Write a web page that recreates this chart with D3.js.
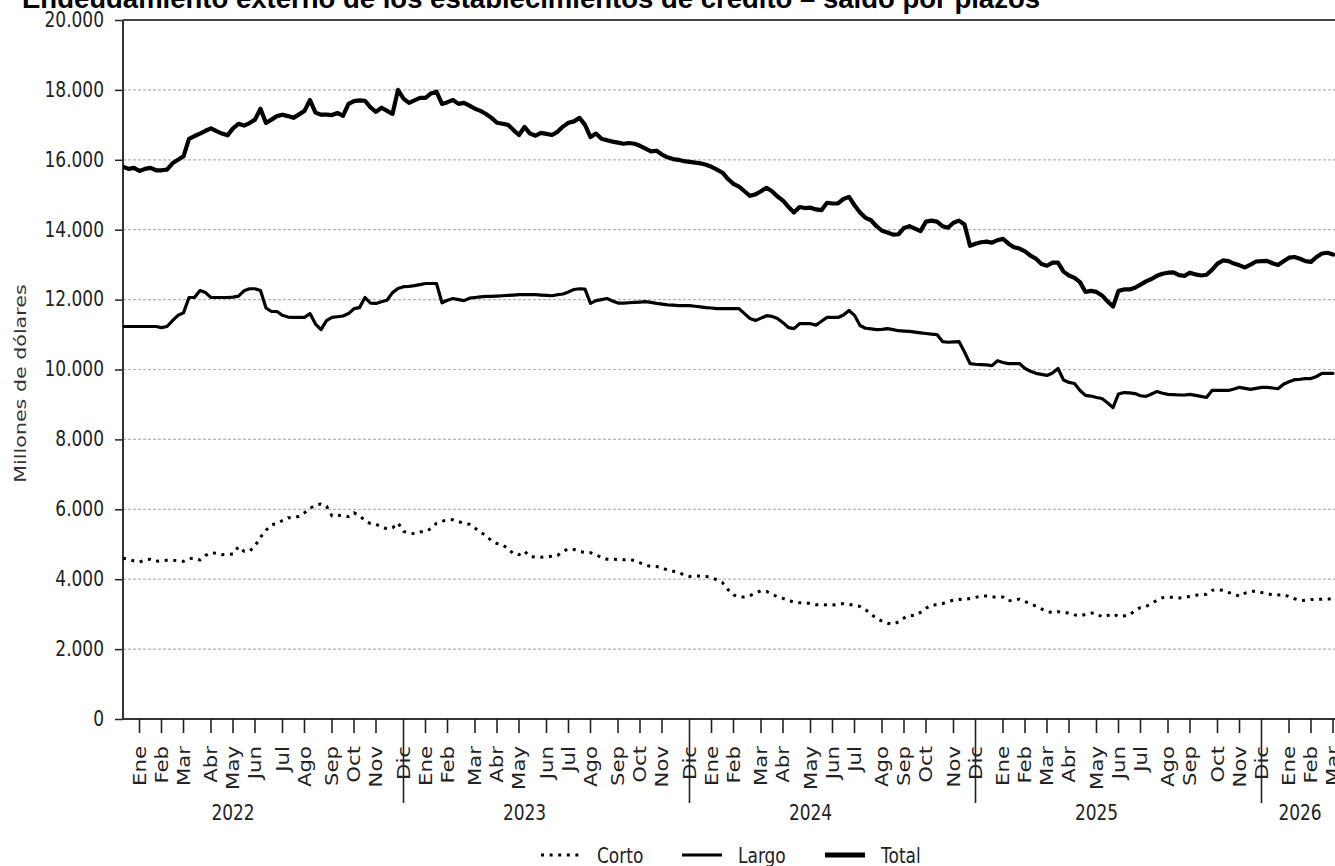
<!DOCTYPE html>
<html><head><meta charset="utf-8">
<script src="https://cdn.jsdelivr.net/npm/d3@7"></script>
<style>body{margin:0;background:#fff}svg{display:block}</style>
</head><body>
<svg id="chart" width="1335" height="866"></svg>
<script>
const titleText = "Endeudamiento externo de los establecimientos de crédito – saldo por plazos";
const yAxisLabel = "Millones de dólares";
const startDate = "2022-01-07";
const monthNames = ["Ene","Feb","Mar","Abr","May","Jun","Jul","Ago","Sep","Oct","Nov","Dic"];
const yearLabels = ["2022","2023","2024","2025","2026"];
const yearLabelDates = ["2022-05-27","2023-06-02","2024-05-31","2025-05-30","2026-02-13"];
const yTicks = [0,2000,4000,6000,8000,10000,12000,14000,16000,18000,20000];
const seriesNames = ["Corto","Largo","Total"];

const corto = [4600,4570,4520,4490,4550,4570,4510,4530,4540,4540,
4530,4510,4590,4600,4550,4680,4760,4740,4700,4710,
4720,4930,4800,4800,4950,5200,5400,5560,5590,5680,
5760,5750,5800,5900,6030,6120,6150,6090,5810,5830,
5820,5790,5900,5820,5680,5590,5570,5500,5440,5470,
5610,5370,5320,5300,5350,5360,5450,5600,5660,5695,
5700,5650,5600,5570,5460,5340,5250,5100,5020,4980,
4880,4720,4700,4800,4650,4630,4630,4645,4660,4680,
4800,4865,4850,4790,4770,4760,4700,4620,4570,4570,
4565,4555,4560,4540,4470,4400,4365,4362,4330,4260,
4230,4200,4120,4080,4095,4090,4080,4040,3980,3900,
3700,3550,3490,3490,3530,3600,3670,3650,3570,3500,
3450,3400,3340,3327,3327,3300,3270,3270,3260,3255,
3290,3300,3280,3250,3220,3130,3000,2880,2800,2740,
2710,2780,2890,2960,2960,3050,3170,3260,3270,3300,
3360,3400,3423,3420,3450,3480,3520,3520,3490,3490,
3490,3380,3400,3430,3360,3300,3230,3150,3080,3040,
3070,3050,3030,2980,2950,2990,3030,3020,2920,2960,
3010,2930,2950,2980,3100,3190,3220,3300,3400,3470,
3480,3480,3465,3480,3510,3540,3550,3567,3680,3700,
3683,3620,3580,3510,3600,3650,3660,3620,3590,3550,
3550,3565,3500,3440,3390,3400,3420,3423,3423,3430,
3430];

const largo = [11230,11230,11230,11230,11230,11230,11230,11200,11230,11400,
11550,11620,12060,12060,12260,12200,12060,12060,12060,12060,
12070,12100,12250,12310,12310,12260,11760,11660,11660,11550,
11500,11490,11490,11490,11600,11300,11140,11400,11490,11510,
11530,11600,11740,11770,12060,11900,11890,11940,11980,12200,
12320,12370,12380,12400,12430,12460,12460,12460,11910,11980,
12030,12000,11970,12040,12060,12080,12090,12090,12100,12110,
12120,12130,12140,12140,12140,12140,12130,12120,12110,12140,
12160,12220,12290,12310,12300,11890,11970,12000,12030,11960,
11900,11900,11910,11920,11930,11940,11920,11890,11870,11850,
11840,11830,11830,11830,11810,11790,11770,11760,11740,11740,
11740,11740,11740,11600,11460,11400,11470,11540,11520,11460,
11340,11200,11170,11310,11310,11310,11270,11380,11490,11490,
11490,11560,11690,11550,11260,11180,11160,11140,11150,11170,
11140,11110,11100,11090,11070,11050,11030,11010,11000,10800,
10780,10790,10800,10500,10170,10150,10140,10130,10110,10250,
10200,10170,10170,10170,10030,9950,9890,9860,9830,9900,
10030,9700,9630,9600,9400,9260,9240,9200,9170,9050,
8910,9300,9340,9330,9310,9250,9230,9300,9370,9320,
9290,9280,9270,9270,9290,9260,9230,9200,9400,9400,
9400,9400,9440,9490,9460,9430,9460,9490,9490,9470,
9450,9580,9650,9710,9720,9740,9740,9800,9890,9890,
9890];

const total = [15800,15740,15770,15680,15740,15770,15700,15700,15720,15900,
16000,16100,16600,16680,16750,16830,16900,16820,16750,16700,
16900,17030,16980,17050,17150,17460,17050,17150,17250,17290,
17250,17200,17300,17400,17710,17350,17290,17290,17280,17340,
17260,17600,17680,17700,17690,17500,17370,17490,17400,17310,
18000,17750,17630,17700,17770,17770,17900,17950,17600,17650,
17710,17600,17630,17550,17460,17400,17310,17200,17060,17030,
17000,16850,16710,16940,16750,16690,16770,16740,16710,16800,
16950,17060,17100,17200,17000,16650,16750,16600,16560,16520,
16490,16460,16480,16460,16400,16320,16240,16260,16150,16070,
16020,16000,15960,15940,15920,15900,15860,15800,15720,15630,
15450,15310,15230,15100,14970,15010,15100,15200,15100,14950,
14830,14650,14490,14650,14620,14630,14580,14560,14770,14750,
14750,14880,14940,14700,14490,14340,14270,14100,13970,13920,
13860,13870,14050,14100,14030,13960,14230,14260,14230,14100,
14060,14200,14260,14150,13540,13600,13640,13660,13630,13700,
13740,13600,13500,13460,13380,13260,13170,13020,12970,13060,
13060,12800,12690,12620,12500,12220,12250,12220,12120,11950,
11800,12250,12290,12290,12340,12430,12520,12590,12680,12740,
12770,12780,12700,12680,12770,12720,12690,12710,12850,13030,
13120,13100,13030,12980,12920,13000,13090,13100,13110,13040,
12990,13100,13200,13220,13170,13100,13080,13220,13320,13340,
13290];

const W = 1335, H = 866;
const pL = 123, pR = 1333, pT = 20, pB = 719;
const S = 1.25; // vertical stretch of text in reference
const FONT = "DejaVu Sans, sans-serif";

const parse = d3.utcParse("%Y-%m-%d");
const t0 = parse(startDate);
const dates = total.map((_, i) => d3.utcDay.offset(t0, 7 * i));

const x = d3.scaleUtc().domain([dates[0], dates[dates.length - 1]]).range([pL, pR]);
const y = d3.scaleLinear().domain([0, 20000]).range([pB, pT]);

const loc = d3.formatLocale({decimal: ",", thousands: ".", grouping: [3], currency: ["", ""]});
const fmt = loc.format(",");

const svg = d3.select("#chart");
svg.append("rect").attr("width", W).attr("height", H).attr("fill", "#fff");

// title (clipped at top in reference)
svg.append("text")
  .attr("transform", `translate(22,8) scale(1,${S})`)
  .attr("font-family", "Liberation Sans, Arial, sans-serif")
  .attr("font-weight", "bold")
  .attr("font-size", 22)
  .attr("textLength", 1018)
  .attr("lengthAdjust", "spacingAndGlyphs")
  .attr("fill", "#000")
  .text(titleText);

// grid
svg.append("g").selectAll("line")
  .data(yTicks.filter(v => v > 0 && v < 20000))
  .join("line")
  .attr("x1", pL).attr("x2", W)
  .attr("y1", d => y(d)).attr("y2", d => y(d))
  .attr("stroke", "#b5b5b5").attr("stroke-width", 1.2)
  .attr("stroke-dasharray", "3,2");

// y axis
const yAxis = svg.append("g").attr("transform", `translate(${pL},0)`)
  .call(d3.axisLeft(y).tickValues(yTicks).tickFormat(fmt).tickSize(8).tickPadding(11));
yAxis.select(".domain").remove();
yAxis.selectAll(".tick line").attr("stroke", "#222").attr("stroke-width", 1.5);
yAxis.selectAll(".tick text")
  .attr("font-family", FONT).attr("font-size", 17).attr("fill", "#222")
  .attr("transform", `scale(1,${S})`)
  .attr("dy", "0.3em");

// spines
svg.append("line").attr("x1", pL).attr("x2", pL).attr("y1", pT).attr("y2", pB)
  .attr("stroke", "#333").attr("stroke-width", 2);
svg.append("line").attr("x1", pL).attr("x2", W).attr("y1", pT).attr("y2", pT)
  .attr("stroke", "#444").attr("stroke-width", 2.2);
svg.append("line").attr("x1", pL).attr("x2", W).attr("y1", pB).attr("y2", pB)
  .attr("stroke", "#333").attr("stroke-width", 2);

// y label
svg.append("text")
  .attr("transform", `translate(20,${(pT + pB) / 2 + 14}) rotate(-90) scale(${S},1)`)
  .attr("text-anchor", "middle").attr("dy", "0.35em")
  .attr("font-family", FONT).attr("font-size", 16.5).attr("fill", "#333")
  .text(yAxisLabel);

// month ticks: last weekly observation of each month
const monthTicks = d3.groups(dates, d => d3.utcFormat("%Y-%m")(d)).map(g => g[1][g[1].length - 1]);
const xg = svg.append("g");
xg.selectAll("line").data(monthTicks).join("line")
  .attr("x1", d => x(d)).attr("x2", d => x(d))
  .attr("y1", pB).attr("y2", d => d.getUTCMonth() === 11 ? 803 : 733)
  .attr("stroke", "#222").attr("stroke-width", 1.6);
xg.selectAll("text").data(monthTicks).join("text")
  .attr("transform", d => `translate(${x(d)},746) rotate(-90) scale(${S},1)`)
  .attr("text-anchor", "end").attr("dy", "0.36em")
  .attr("font-family", FONT).attr("font-size", 17).attr("fill", "#222")
  .text(d => monthNames[d.getUTCMonth()]);

// year labels
svg.append("g").selectAll("text").data(yearLabels).join("text")
  .attr("transform", (d, i) => `translate(${x(parse(yearLabelDates[i]))},812) scale(1,${S})`)
  .attr("text-anchor", "middle").attr("dy", "0.36em")
  .attr("font-family", FONT).attr("font-size", 17).attr("fill", "#222")
  .text(d => d);

// lines
svg.append("clipPath").attr("id", "clip").append("rect")
  .attr("x", pL).attr("y", pT).attr("width", W - pL).attr("height", pB - pT);
const plot = svg.append("g").attr("clip-path", "url(#clip)");
const line = d3.line().x((d, i) => x(dates[i])).y(d => y(d)).curve(d3.curveLinear);

const styles = {
  Corto: {w: 3, dash: "3,5.6", cap: "butt"},
  Largo: {w: 3.2, dash: null, cap: "round"},
  Total: {w: 4.2, dash: null, cap: "round"}
};
const seriesData = {Corto: corto, Largo: largo, Total: total};

seriesNames.forEach(name => {
  const st = styles[name];
  plot.append("path").datum(seriesData[name])
    .attr("d", line)
    .attr("fill", "none").attr("stroke", "#000")
    .attr("stroke-width", st.w)
    .attr("stroke-linejoin", "round")
    .attr("stroke-linecap", st.cap)
    .attr("stroke-dasharray", st.dash);
});

// legend
const legendX = [541, 682, 825];
const lg = svg.append("g").attr("transform", "translate(0,855)");
seriesNames.forEach((name, i) => {
  const st = styles[name];
  lg.append("line").attr("x1", legendX[i]).attr("x2", legendX[i] + 40)
    .attr("y1", 0).attr("y2", 0)
    .attr("stroke", "#000").attr("stroke-width", name === "Total" ? 5 : st.w)
    .attr("stroke-dasharray", st.dash);
  lg.append("text")
    .attr("transform", `translate(${legendX[i] + 56},0) scale(1,${S})`)
    .attr("dy", "0.36em")
    .attr("font-family", FONT).attr("font-size", 17).attr("fill", "#222")
    .text(name);
});
</script>
</body></html>
